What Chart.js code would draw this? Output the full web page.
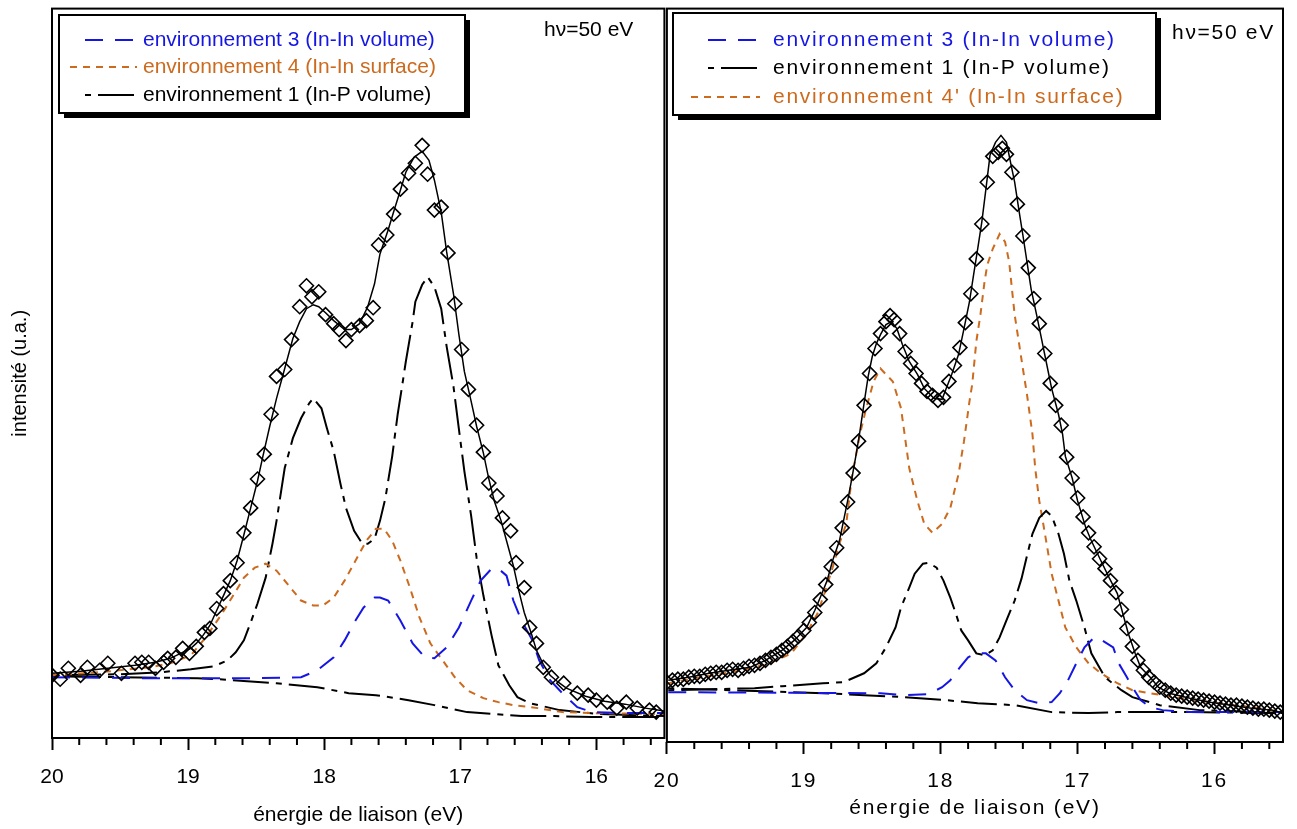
<!DOCTYPE html>
<html>
<head>
<meta charset="utf-8">
<script src="https://cdn.jsdelivr.net/npm/chart.js@4.4.0/dist/chart.umd.min.js"></script>
<style>
  body { margin: 0; background: #fff; }
  #wrap { position: relative; width: 1297px; height: 829px; }
  canvas { position: absolute; top: 0; }
  #left { left: 0; }
  #right { left: 620px; }
</style>
</head>
<body>
<div id="wrap">
  <canvas id="left" width="666" height="829"></canvas>
  <canvas id="right" width="677" height="829"></canvas>
</div>
<script>
// listed from left (20 eV) to right (16 eV), the axis is reversed
var xTicks = [20, 19, 18, 17, 16];

// ---- left panel (hv = 50 eV, first spectrum) ----
var leftFitE = [20.00,19.79,19.59,19.39,19.24,19.13,19.04,18.98,18.94,18.89,18.84,18.79,18.74,18.69,18.64,18.59,18.54,18.49,18.45,18.40,18.35,18.29,18.23,18.18,18.13,18.08,18.04,17.99,17.93,17.85,17.80,17.74,17.68,17.63,17.59,17.53,17.49,17.44,17.40,17.34,17.28,17.23,17.19,17.14,17.10,17.05,17.01,16.97,16.92,16.88,16.83,16.79,16.75,16.70,16.66,16.61,16.57,16.53,16.48,16.44,16.39,16.34,16.28,16.22,16.08,15.94,15.79,15.64,15.50];
var leftFitI = [0.65,0.67,0.70,0.73,0.76,0.80,0.86,0.90,0.95,1.03,1.13,1.28,1.43,1.58,1.78,2.04,2.31,2.58,2.83,3.13,3.41,3.71,4.01,4.18,4.31,4.35,4.33,4.27,4.19,4.10,4.10,4.16,4.33,4.56,4.86,5.10,5.28,5.50,5.68,5.83,5.89,5.80,5.60,5.28,4.88,4.46,4.05,3.68,3.38,3.13,2.86,2.60,2.38,2.18,1.98,1.73,1.48,1.26,1.06,0.88,0.74,0.63,0.56,0.50,0.42,0.37,0.34,0.30,0.27];

var leftObsE = [20.00,19.94,19.88,19.79,19.74,19.65,19.59,19.49,19.39,19.34,19.29,19.24,19.18,19.15,19.09,19.04,18.99,18.94,18.88,18.84,18.79,18.74,18.69,18.64,18.59,18.54,18.49,18.44,18.39,18.35,18.29,18.24,18.18,18.13,18.09,18.04,17.99,17.93,17.89,17.84,17.80,17.74,17.69,17.64,17.60,17.54,17.49,17.44,17.38,17.33,17.28,17.24,17.19,17.14,17.09,17.04,16.99,16.94,16.88,16.83,16.79,16.73,16.69,16.63,16.59,16.53,16.49,16.44,16.39,16.33,16.24,16.14,16.06,16.00,15.92,15.85,15.78,15.70,15.61,15.56];
var leftObsI = [0.63,0.59,0.70,0.63,0.71,0.68,0.75,0.65,0.75,0.76,0.76,0.70,0.76,0.80,0.81,0.90,0.85,0.92,1.06,1.10,1.30,1.45,1.58,1.76,2.06,2.31,2.60,2.85,3.25,3.63,3.70,4.00,4.33,4.54,4.43,4.48,4.25,4.16,4.10,3.99,4.10,4.14,4.19,4.32,4.95,5.05,5.26,5.51,5.67,5.77,5.95,5.66,5.30,5.33,4.87,4.36,3.90,3.50,3.14,2.87,2.56,2.43,2.21,2.08,1.76,1.51,1.11,0.95,0.71,0.61,0.55,0.45,0.43,0.38,0.36,0.30,0.36,0.30,0.28,0.26];

var leftEnv3E = [20.00,19.28,18.54,18.17,18.05,17.93,17.85,17.77,17.71,17.63,17.59,17.53,17.44,17.35,17.26,17.19,17.10,17.01,16.92,16.85,16.77,16.72,16.66,16.61,16.55,16.47,16.42,16.34,16.25,16.14,16.03,15.73,15.50];
var leftEnv3I = [0.61,0.60,0.60,0.61,0.68,0.81,0.98,1.18,1.31,1.41,1.41,1.38,1.18,0.95,0.81,0.80,0.91,1.11,1.38,1.58,1.70,1.70,1.63,1.38,1.18,0.98,0.78,0.58,0.45,0.31,0.26,0.25,0.25];

var leftEnv4E = [20.00,19.65,19.28,19.13,18.98,18.87,18.75,18.66,18.59,18.51,18.43,18.35,18.26,18.17,18.08,18.01,17.93,17.85,17.77,17.69,17.62,17.56,17.50,17.44,17.37,17.30,17.22,17.13,17.04,16.95,16.83,16.72,16.61,16.43,16.25,16.03,15.50];
var leftEnv4I = [0.63,0.66,0.71,0.75,0.83,1.01,1.25,1.45,1.61,1.71,1.75,1.68,1.53,1.38,1.33,1.33,1.41,1.58,1.78,1.98,2.10,2.10,1.98,1.78,1.51,1.21,0.95,0.78,0.61,0.48,0.40,0.36,0.33,0.30,0.26,0.25,0.24];

var leftEnv1E = [20.00,19.50,19.20,18.98,18.81,18.71,18.65,18.59,18.54,18.49,18.43,18.38,18.35,18.29,18.23,18.17,18.11,18.08,18.02,17.98,17.93,17.88,17.84,17.78,17.72,17.68,17.63,17.59,17.55,17.50,17.46,17.43,17.40,17.35,17.33,17.28,17.24,17.19,17.14,17.10,17.05,17.01,16.97,16.92,16.88,16.83,16.77,16.72,16.64,16.58,16.49,16.27,15.97,15.50];
var leftEnv1I = [0.63,0.64,0.66,0.69,0.72,0.78,0.86,0.98,1.16,1.35,1.61,1.95,2.18,2.71,3.01,3.21,3.36,3.41,3.31,3.11,2.88,2.55,2.31,2.08,1.95,1.95,2.00,2.18,2.41,2.83,3.25,3.51,3.78,4.18,4.38,4.55,4.63,4.53,4.31,3.93,3.53,3.10,2.68,2.23,1.81,1.43,1.03,0.73,0.53,0.41,0.35,0.28,0.24,0.22];

var leftBgE = [20.00,18.93,18.78,18.35,18.05,17.82,17.62,17.38,17.19,16.95,16.75,16.55,16.31,16.03,15.50];
var leftBgI = [0.62,0.60,0.59,0.55,0.51,0.45,0.43,0.38,0.33,0.26,0.24,0.22,0.22,0.21,0.21];

// ---- right panel (hv = 50 eV, second spectrum) ----
var rightFitE = [19.99,19.84,19.69,19.55,19.39,19.28,19.16,19.07,18.98,18.92,18.88,18.83,18.79,18.74,18.71,18.68,18.65,18.62,18.59,18.56,18.53,18.50,18.47,18.44,18.40,18.36,18.32,18.28,18.23,18.17,18.12,18.05,17.99,17.96,17.92,17.87,17.83,17.79,17.76,17.73,17.70,17.67,17.64,17.60,17.56,17.52,17.49,17.46,17.43,17.40,17.37,17.34,17.30,17.27,17.23,17.19,17.14,17.11,17.09,17.04,17.00,16.94,16.90,16.83,16.77,16.71,16.67,16.63,16.58,16.54,16.47,16.41,16.33,16.18,16.03,15.88,15.73,15.58,15.50];
var rightFitI = [0.62,0.65,0.69,0.72,0.75,0.82,0.92,1.02,1.15,1.32,1.45,1.62,1.82,2.02,2.22,2.42,2.64,2.87,3.12,3.40,3.67,3.87,4.00,4.09,4.19,4.22,4.15,3.99,3.82,3.69,3.55,3.45,3.44,3.55,3.69,3.89,4.15,4.42,4.69,4.95,5.22,5.55,5.89,6.02,6.09,6.02,5.82,5.62,5.35,5.09,4.82,4.55,4.29,4.09,3.82,3.55,3.29,3.09,2.87,2.65,2.42,2.15,2.02,1.82,1.65,1.49,1.29,1.09,0.89,0.75,0.65,0.55,0.49,0.44,0.40,0.37,0.34,0.32,0.29];

var rightObsE = [20.00,19.96,19.92,19.88,19.84,19.80,19.76,19.72,19.68,19.64,19.60,19.56,19.52,19.48,19.44,19.40,19.36,19.32,19.28,19.24,19.20,19.16,19.12,19.08,19.04,19.00,18.96,18.92,18.88,18.84,18.80,18.76,18.72,18.68,18.64,18.60,18.56,18.52,18.48,18.44,18.40,18.37,18.34,18.30,18.26,18.22,18.18,18.14,18.10,18.06,18.02,17.98,17.94,17.90,17.86,17.82,17.78,17.74,17.70,17.66,17.62,17.58,17.55,17.52,17.48,17.44,17.40,17.36,17.32,17.28,17.24,17.20,17.16,17.12,17.08,17.04,17.00,16.96,16.92,16.88,16.84,16.80,16.76,16.72,16.68,16.64,16.60,16.56,16.52,16.48,16.44,16.40,16.36,16.32,16.28,16.24,16.20,16.16,16.12,16.08,16.04,16.00,15.96,15.92,15.88,15.84,15.80,15.76,15.72,15.68,15.64,15.60,15.56,15.52];
var rightObsI = [0.60,0.62,0.63,0.63,0.65,0.66,0.66,0.68,0.69,0.70,0.70,0.72,0.73,0.72,0.74,0.76,0.77,0.79,0.82,0.85,0.88,0.92,0.96,1.01,1.06,1.12,1.20,1.30,1.43,1.58,1.76,1.95,2.15,2.41,2.70,3.02,3.38,3.70,3.95,4.10,4.22,4.28,4.24,4.10,3.92,3.80,3.70,3.60,3.52,3.48,3.43,3.46,3.62,3.78,3.96,4.21,4.50,4.85,5.20,5.62,5.88,5.92,5.96,5.90,5.72,5.40,5.08,4.76,4.45,4.20,3.90,3.60,3.38,3.18,2.86,2.65,2.45,2.26,2.10,1.96,1.84,1.74,1.62,1.50,1.33,1.14,0.96,0.82,0.72,0.65,0.60,0.55,0.52,0.49,0.47,0.46,0.45,0.44,0.43,0.42,0.41,0.40,0.39,0.38,0.37,0.37,0.36,0.35,0.34,0.33,0.33,0.32,0.31,0.30];

var rightEnv3E = [19.99,18.44,18.26,18.09,17.99,17.93,17.86,17.80,17.74,17.67,17.60,17.53,17.46,17.37,17.28,17.19,17.13,17.07,17.01,16.95,16.88,16.82,16.74,16.70,16.64,16.60,16.54,16.47,16.38,16.18,15.50];
var rightEnv3I = [0.50,0.49,0.47,0.48,0.55,0.62,0.75,0.85,0.89,0.89,0.82,0.65,0.52,0.42,0.39,0.40,0.49,0.62,0.79,0.95,1.05,1.02,0.95,0.79,0.65,0.55,0.42,0.35,0.32,0.30,0.30];

var rightEnv1E = [19.99,19.36,19.16,18.86,18.71,18.56,18.47,18.40,18.33,18.29,18.23,18.19,18.13,18.09,18.03,17.98,17.93,17.89,17.85,17.80,17.74,17.68,17.62,17.57,17.52,17.46,17.41,17.37,17.33,17.28,17.23,17.19,17.14,17.10,17.06,17.01,16.95,16.90,16.80,16.68,16.60,16.40,16.11,15.50];
var rightEnv1I = [0.52,0.54,0.56,0.59,0.60,0.69,0.79,0.95,1.15,1.35,1.55,1.69,1.79,1.80,1.75,1.62,1.45,1.29,1.12,1.02,0.89,0.87,0.92,1.05,1.22,1.42,1.64,1.87,2.09,2.25,2.32,2.27,2.09,1.89,1.62,1.42,1.15,0.89,0.65,0.52,0.45,0.37,0.32,0.29];

var rightEnv4E = [19.99,19.75,19.45,19.25,19.09,18.98,18.90,18.85,18.79,18.74,18.69,18.65,18.59,18.55,18.49,18.44,18.40,18.35,18.29,18.23,18.17,18.12,18.06,17.99,17.93,17.87,17.83,17.79,17.77,17.74,17.71,17.68,17.66,17.62,17.57,17.53,17.50,17.48,17.46,17.43,17.40,17.37,17.35,17.33,17.31,17.28,17.23,17.19,17.14,17.09,17.01,16.92,16.83,16.71,16.60,16.47,16.30,16.03,15.73,15.50];
var rightEnv4I = [0.59,0.65,0.72,0.79,0.89,1.09,1.29,1.49,1.75,1.99,2.19,2.65,3.09,3.32,3.62,3.75,3.69,3.62,3.35,2.75,2.42,2.19,2.10,2.19,2.35,2.69,3.02,3.42,3.59,4.02,4.29,4.62,4.79,4.95,5.10,5.02,4.82,4.55,4.29,4.02,3.75,3.49,3.29,3.09,2.75,2.42,2.02,1.69,1.42,1.15,0.95,0.79,0.69,0.59,0.52,0.49,0.45,0.40,0.35,0.30];

var rightBgE = [19.99,18.86,18.26,17.96,17.73,17.46,17.19,16.92,16.71,16.47,16.18,15.50];
var rightBgI = [0.54,0.49,0.45,0.42,0.39,0.37,0.30,0.29,0.30,0.30,0.30,0.29];

var FONT = "'Liberation Sans', Arial, sans-serif";
var BLUE = "#1616e4", ORANGE = "#cc6a1e", BLACK = "#000";
var DASH3 = [18, 12], DASH4 = [7, 6], DASH1 = [6, 7, 36, 7];

function pts(xs, ys) {
  return xs.map(function (x, i) { return { x: x, y: ys[i] }; });
}

function curve(label, xs, ys, color, dash, width) {
  return {
    label: label, data: pts(xs, ys), showLine: true, fill: false,
    borderColor: color, backgroundColor: color, borderDash: dash,
    borderWidth: width, pointRadius: 0, tension: 0
  };
}

function diamonds(xs, ys) {
  return {
    label: "mesure", data: pts(xs, ys), showLine: false,
    pointStyle: "rectRot", pointRadius: 7, pointBorderWidth: 1.6,
    pointBorderColor: BLACK, pointBackgroundColor: "rgba(0,0,0,0)"
  };
}

// frame round the plot area + minor ticks every 0.2 eV
var framePlugin = {
  id: "frame",
  beforeDraw: function (chart, args, opts) {
    chart.ctx.letterSpacing = opts.spacing || "0px";
  },
  afterDraw: function (chart, args, opts) {
    var ctx = chart.ctx, a = chart.chartArea, xs = chart.scales.x;
    ctx.save();
    ctx.strokeStyle = BLACK;
    ctx.lineWidth = 2;
    ctx.setLineDash([]);
    ctx.strokeRect(a.left, a.top, a.right - a.left, a.bottom - a.top);
    for (var v = 15.6; v < 20; v += 0.2) {
      if (Math.abs(v - Math.round(v)) < 0.01) continue;
      var px = xs.getPixelForValue(v);
      ctx.beginPath();
      ctx.moveTo(px, a.bottom);
      ctx.lineTo(px, a.bottom + 7);
      ctx.stroke();
    }
    ctx.restore();
  }
};

// boxed legend with drop shadow, drawn inside the plot
var boxLegend = {
  id: "boxLegend",
  afterDraw: function (chart, args, o) {
    var ctx = chart.ctx;
    ctx.save();
    ctx.letterSpacing = o.spacing;
    ctx.fillStyle = BLACK;
    ctx.fillRect(o.x + 5, o.y + 5, o.w, o.h);
    ctx.fillStyle = "#fff";
    ctx.fillRect(o.x, o.y, o.w, o.h);
    ctx.lineWidth = 2;
    ctx.strokeStyle = BLACK;
    ctx.strokeRect(o.x, o.y, o.w, o.h);
    ctx.font = "21px " + FONT;
    ctx.textBaseline = "middle";
    ctx.textAlign = "left";
    o.items.forEach(function (it, i) {
      var ds = chart.data.datasets[it.index];
      var y = o.rows[i];
      ctx.strokeStyle = ds.borderColor;
      ctx.lineWidth = 2;
      ctx.setLineDash(ds.borderDash);
      ctx.beginPath();
      ctx.moveTo(it.from, y);
      ctx.lineTo(o.lineEnd, y);
      ctx.stroke();
      ctx.setLineDash([]);
      ctx.fillStyle = ds.borderColor;
      ctx.fillText(ds.label, o.textX, y);
    });
    ctx.fillStyle = BLACK;
    ctx.fillText(o.note, o.noteX, o.noteY);
    ctx.restore();
  }
};

function xAxis(height, titlePad) {
  return {
    type: "linear", reverse: true, min: 15.5, max: 20,
    afterBuildTicks: function (scale) {
      scale.ticks = xTicks.map(function (v) { return { value: v }; });
    },
    ticks: { autoSkip: false, maxRotation: 0, padding: 15, color: BLACK, font: { family: FONT, size: 21 } },
    grid: { drawOnChartArea: false, drawTicks: true, tickLength: 12, tickWidth: 2, tickColor: BLACK },
    border: { display: false },
    title: { display: true, text: "énergie de liaison (eV)", color: BLACK, font: { family: FONT, size: 21 }, padding: { top: 0, bottom: titlePad } },
    afterFit: function (scale) {
      scale.height = height;
      scale.paddingLeft = 0;
      scale.paddingRight = 0;
    }
  };
}

var leftChart = new Chart(document.getElementById("left"), {
  type: "scatter",
  data: {
    datasets: [
      curve("ajustement", leftFitE, leftFitI, BLACK, [], 1.5),
      diamonds(leftObsE, leftObsI),
      curve("environnement 3 (In-In volume)", leftEnv3E, leftEnv3I, BLUE, DASH3, 2),
      curve("environnement 4 (In-In surface)", leftEnv4E, leftEnv4I, ORANGE, DASH4, 2),
      curve("environnement 1 (In-P volume)", leftEnv1E, leftEnv1I, BLACK, DASH1, 2),
      curve("fond", leftBgE, leftBgI, BLACK, DASH1, 2)
    ]
  },
  options: {
    responsive: false, maintainAspectRatio: false, animation: false, devicePixelRatio: 1,
    layout: { padding: { top: 6, right: 1.7, left: 0, bottom: 0 } },
    scales: {
      x: xAxis(91, 1.4),
      y: {
        min: 0, max: 7.323,
        ticks: { display: false },
        grid: { display: false },
        border: { display: false },
        title: { display: true, text: "intensité (u.a.)", color: BLACK, font: { family: FONT, size: 20 }, padding: { top: 8, bottom: 0 } },
        afterFit: function (scale) { scale.width = 52; }
      }
    },
    plugins: {
      legend: { display: false },
      tooltip: { enabled: false },
      frame: { spacing: "0px" },
      boxLegend: {
        x: 59, y: 15, w: 406, h: 98, spacing: "0px",
        rows: [40, 67, 95], textX: 143, lineEnd: 137,
        items: [{ index: 2, from: 85 }, { index: 3, from: 70 }, { index: 4, from: 85 }],
        note: "hν=50 eV", noteX: 544, noteY: 30
      }
    }
  },
  plugins: [framePlugin, boxLegend]
});

var rightChart = new Chart(document.getElementById("right"), {
  type: "scatter",
  data: {
    datasets: [
      curve("ajustement", rightFitE, rightFitI, BLACK, [], 1.5),
      diamonds(rightObsE, rightObsI),
      curve("environnement 3 (In-In volume)", rightEnv3E, rightEnv3I, BLUE, DASH3, 2),
      curve("environnement 1 (In-P volume)", rightEnv1E, rightEnv1I, BLACK, DASH1, 2),
      curve("environnement 4' (In-In surface)", rightEnv4E, rightEnv4I, ORANGE, DASH4, 2),
      curve("fond", rightBgE, rightBgI, BLACK, DASH1, 2)
    ]
  },
  options: {
    responsive: false, maintainAspectRatio: false, animation: false, devicePixelRatio: 1,
    layout: { padding: { top: 6, right: 14, left: 46.9, bottom: 0 } },
    scales: {
      x: xAxis(87, 8.4),
      y: { display: false, min: 0, max: 7.363 }
    },
    plugins: {
      legend: { display: false },
      tooltip: { enabled: false },
      frame: { spacing: "1.8px" },
      boxLegend: {
        x: 53, y: 13, w: 483, h: 102, spacing: "1.7px",
        rows: [40, 68, 97], textX: 153, lineEnd: 140,
        items: [{ index: 2, from: 88 }, { index: 3, from: 88 }, { index: 4, from: 71 }],
        note: "hν=50 eV", noteX: 552, noteY: 33
      }
    }
  },
  plugins: [framePlugin, boxLegend]
});

// the left plot box must end where the right one starts (about x = 664)
var gap = Math.round(664.3 - leftChart.chartArea.right);
if (gap !== 0) leftChart.resize(leftChart.width + gap, leftChart.height);
</script>
</body>
</html>
